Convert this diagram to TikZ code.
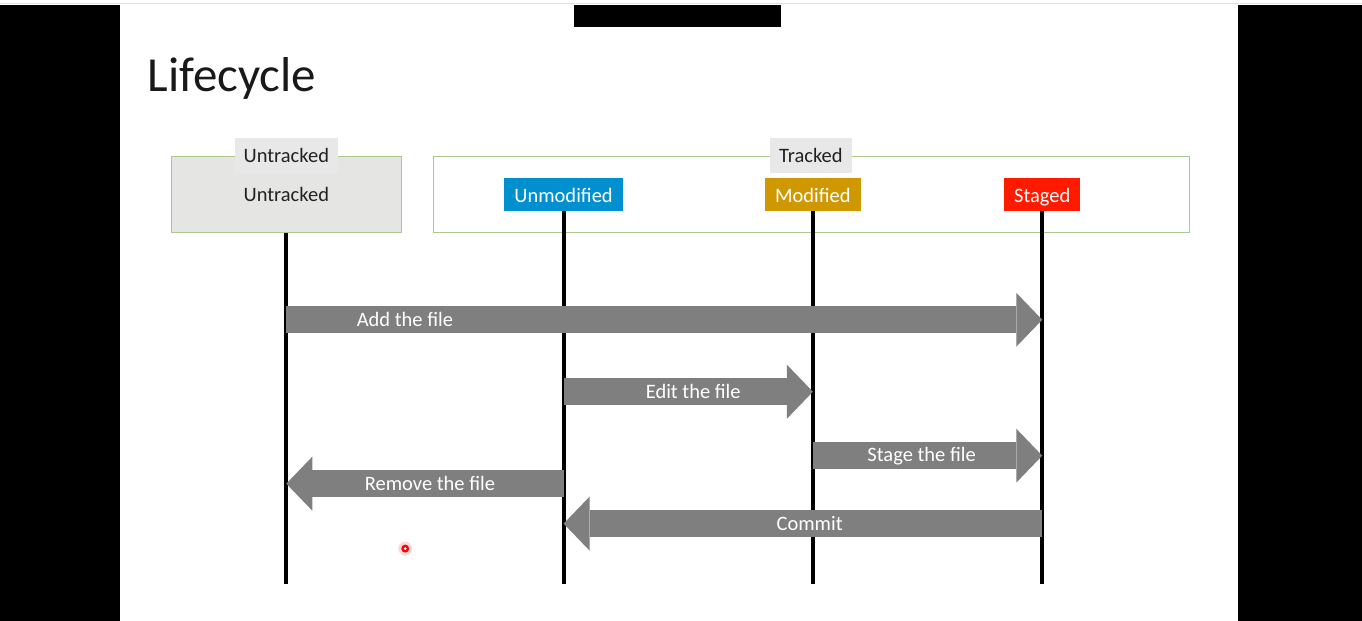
\documentclass[tikz,border=0pt]{standalone}
\usepackage{fontspec}
\setmainfont{Carlito}
\usetikzlibrary{arrows.meta, positioning}

\definecolor{boxgreen}{RGB}{169,201,143}
\definecolor{boxgray}{RGB}{229,230,227}
\definecolor{taggray}{RGB}{232,232,232}
\definecolor{unmodblue}{RGB}{0,144,208}
\definecolor{modgold}{RGB}{208,152,0}
\definecolor{stagedred}{RGB}{255,26,0}
\definecolor{arrowgray}{RGB}{127,127,127}
\definecolor{textdark}{RGB}{34,34,34}

\begin{document}
\begin{tikzpicture}[x=0.5pt, y=-0.5pt, font=\fontsize{10.25}{12}\selectfont]
    \tikzstyle{group} = [draw=boxgreen, line width=0.5pt, minimum height=38pt, inner sep=0pt, text=textdark]
    \tikzstyle{tag} = [fill=taggray, minimum height=17.5pt, inner xsep=4.5pt, text=textdark]
    \tikzstyle{state} = [minimum height=16.5pt, inner xsep=5pt, text height=9pt, text depth=0.5pt, text=white]
    \tikzstyle{lifeline} = [line width=2pt, black]
    \tikzstyle{blockarrow} = [draw=arrowgray, line width=13.5pt, -{Triangle[length=13pt, width=27pt, line width=0pt]}]
    \tikzstyle{arrowtext} = [text=white, inner sep=0pt]

    % frame of the slide
    \fill[white] (0,0) rectangle (1362,621);
    \draw[black!12, line width=0.5pt] (0,4) -- (1362,4);
    \fill[black] (0,5) rectangle (120,621);
    \fill[black] (1238,5) rectangle (1362,621);
    \fill[black] (574,5) rectangle (781,27);

    \node[anchor=base west, inner sep=0pt, font=\fontsize{24.5}{28}\selectfont, text=black!90] (title) at (147,92) {Lifecycle};

    % groups
    \node[group, fill=boxgray, minimum width=115pt] (untracked) at (286,195) {Untracked};
    \node[group, fill=white, minimum width=378.5pt] (tracked) at (811.5,195) {};
    \node[tag] (untracked-tag) at (286,155.5) {Untracked};
    \node[tag] (tracked-tag) at (811,155.5) {Tracked};

    % states
    \node[state, fill=unmodblue] (unmod) at (563.5,194.5) {Unmodified};
    \node[state, fill=modgold] (mod) at (813,194.5) {Modified};
    \node[state, fill=stagedred] (staged) at (1042.5,194.5) {Staged};

    % lifelines
    \coordinate (untracked-end) at (untracked |- 0,584);
    \coordinate (unmod-end) at (unmod |- 0,584);
    \coordinate (mod-end) at (mod |- 0,584);
    \coordinate (staged-end) at (staged |- 0,584);
    \draw[lifeline] (untracked.south) -- (untracked-end);
    \draw[lifeline] (unmod) -- (unmod-end);
    \draw[lifeline] (mod) -- (mod-end);
    \draw[lifeline] (staged) -- (staged-end);

    % transitions
    \draw[blockarrow] (untracked |- 0,320) -- (staged |- 0,320)
        node[arrowtext, pos=0.157] (add) {Add the file};
    \draw[blockarrow] (unmod |- 0,392) -- (mod |- 0,392)
        node[arrowtext, pos=0.52] (edit) {Edit the file};
    \draw[blockarrow] (mod |- 0,456) -- (staged |- 0,456)
        node[arrowtext, pos=0.474] (stage) {Stage the file};
    \draw[blockarrow] (unmod |- 0,484) -- (untracked |- 0,484)
        node[arrowtext, pos=0.482] (remove) {Remove the file};
    \draw[blockarrow] (staged |- 0,524) -- (unmod |- 0,524)
        node[arrowtext, pos=0.486] (commit) {Commit};

    % pointer
    \fill[red!15] (405,549) circle (7);
    \fill[red] (405,549) circle (4);
    \fill[white] (405,549) circle (1.5);
\end{tikzpicture}
\end{document}
